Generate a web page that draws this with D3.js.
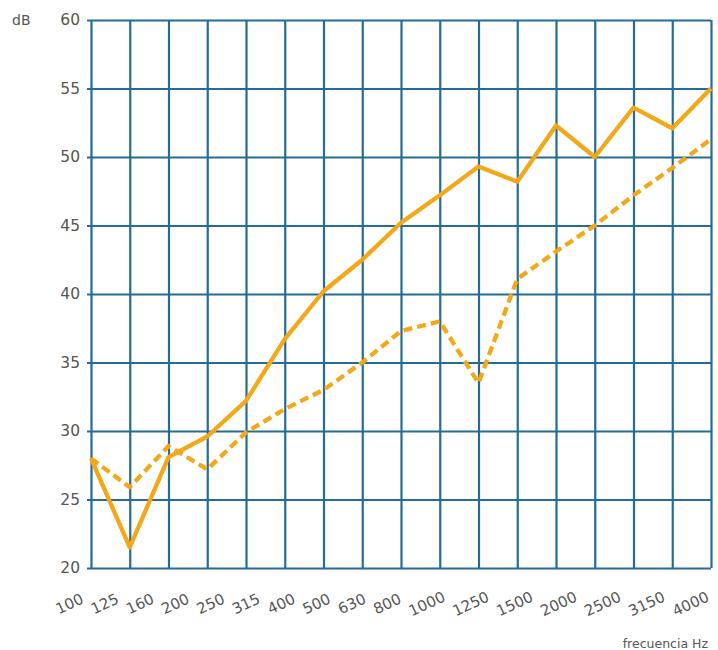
<!DOCTYPE html>
<html>
<head>
<meta charset="utf-8">
<script src="https://cdn.jsdelivr.net/npm/d3@7"></script>
<style>
  html, body { margin: 0; padding: 0; background: #ffffff; }
  svg { display: block; }
  text { font-family: "DejaVu Sans", sans-serif; fill: #555; }
</style>
</head>
<body>
<svg id="chart" width="718" height="650"></svg>
<script>
// ---- data ----
const frequencies = ["100","125","160","200","250","315","400","500","630","800","1000","1250","1500","2000","2500","3150","4000"];
const solidSeries  = [28.0, 21.5, 28.1, 29.6, 32.2, 36.7, 40.2, 42.5, 45.2, 47.2, 49.3, 48.2, 52.3, 50.0, 53.6, 52.1, 55.0];
const dashedSeries = [28.0, 25.9, 28.9, 27.2, 29.9, 31.6, 33.0, 35.0, 37.3, 38.0, 33.5, 41.1, 43.1, 45.0, 47.2, 49.2, 51.3];
const yTicks = [20, 25, 30, 35, 40, 45, 50, 55, 60];
const yUnit = "dB";
const xTitle = "frecuencia Hz";

// ---- layout ----
const margin = { left: 91, right: 7, top: 20, bottom: 82 };
const W = 718, H = 650;
const svg = d3.select("#chart");
const gridColor = "#246c95";
const lineColor = "#f2a818";

const x = d3.scalePoint().domain(frequencies).range([margin.left, W - margin.right]).padding(0);
const y = d3.scaleLinear().domain([20, 60]).range([H - margin.bottom, margin.top]);

// vertical grid (x axis with full-height ticks)
const xAxis = svg.append("g")
  .attr("transform", `translate(0,${y(20)})`)
  .call(d3.axisBottom(x).tickSize(-(y(20) - y(60))).tickSizeOuter(0));
xAxis.select(".domain").remove();
xAxis.selectAll(".tick line").attr("stroke", gridColor).attr("stroke-width", 2.2);

// horizontal grid
const yGrid = svg.append("g")
  .attr("transform", `translate(${x(frequencies[0])},0)`)
  .call(d3.axisLeft(y).tickValues(yTicks).tickSize(-(x(frequencies[frequencies.length-1]) - x(frequencies[0]))).tickFormat(""));
yGrid.select(".domain").remove();
yGrid.selectAll(".tick line").attr("stroke", gridColor).attr("stroke-width", 2.2);

// y axis labels with short outside ticks
const yAxis = svg.append("g")
  .attr("transform", `translate(${x(frequencies[0])},0)`)
  .call(d3.axisLeft(y).tickValues(yTicks).tickSize(4).tickPadding(7));
yAxis.select(".domain").remove();
yAxis.selectAll(".tick line").attr("stroke", gridColor).attr("stroke-width", 2);
yAxis.selectAll(".tick text")
  .style("font-family", "'DejaVu Sans', sans-serif")
  .style("font-size", "15.5px").attr("fill", "#555");

// x tick labels: rotated, laid out one after another like the original
const angle = 25;
const rad = angle * Math.PI / 180;
const labelY = 604;
const gap = 4.7;
const texts = xAxis.selectAll(".tick text")
  .style("font-family", "'DejaVu Sans', sans-serif")
  .style("font-size", "15px").attr("fill", "#555")
  .attr("text-anchor", "middle").attr("dy", null).attr("y", null)
  .attr("dominant-baseline", "central");
const capH = 11;
let prevCx = null, prevSpan = 0;
texts.each(function(d) {
  const w = this.getComputedTextLength();
  const span = w * Math.cos(rad) + capH * Math.sin(rad);
  const cx = prevCx === null ? 69 : prevCx + prevSpan / 2 + gap + span / 2;
  const tx = x(d);
  d3.select(this).attr("transform", `translate(${cx - tx},${labelY - y(20)}) rotate(${-angle})`);
  prevCx = cx; prevSpan = span;
});

// lines
const line = d3.line().x((d, i) => x(frequencies[i])).y(d => y(d));
svg.append("path").datum(dashedSeries)
  .attr("fill", "none").attr("stroke", lineColor).attr("stroke-width", 4.3)
  .attr("stroke-dasharray", "9,5").attr("stroke-linejoin", "round")
  .attr("d", line);
svg.append("path").datum(solidSeries)
  .attr("fill", "none").attr("stroke", lineColor).attr("stroke-width", 4.3)
  .attr("stroke-linejoin", "round")
  .attr("d", line);

// titles
svg.append("text").attr("x", 12).attr("y", 25)
  .style("font-size", "14px").attr("fill", "#666").text(yUnit);
svg.append("text").attr("x", 708).attr("y", 648).attr("text-anchor", "end")
  .style("font-size", "12.5px").attr("fill", "#555").text(xTitle);
</script>
</body>
</html>
